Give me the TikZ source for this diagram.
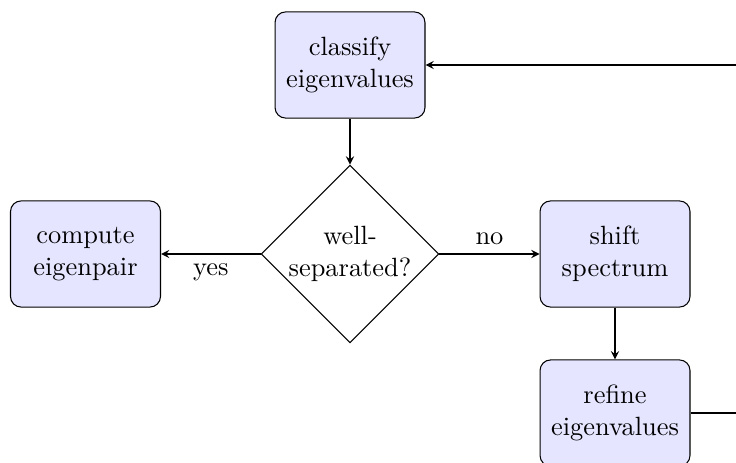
\documentclass[tikz,border=0pt]{standalone}
\usetikzlibrary{shapes.geometric,arrows}
\begin{document}
\begin{tikzpicture}[x=0.3788pt,y=-0.3788pt,
  procbox/.style={draw, rounded corners=4pt, fill=blue!10, minimum width=56.8pt, minimum height=40.2pt, align=center, inner sep=2pt},
  decbox/.style={draw, diamond, aspect=1, minimum width=66.3pt, minimum height=66.3pt, inner sep=0pt, align=center},
  flow/.style={draw, -stealth}]
\useasboundingbox (0,0) rectangle (736,462);
\node[procbox] (classify) at (350,65) {classify\\eigenvalues};
\node[decbox] (dec) at (350,254) {well-\\separated?};
\node[procbox] (compute) at (85.5,254) {compute\\eigenpair};
\node[procbox] (shift) at (615,254) {shift\\spectrum};
\node[procbox] (refine) at (615,413) {refine\\eigenvalues};
\coordinate (r1) at (770,413);
\coordinate (r2) at (770,65);
\draw[flow] (classify) -- (dec);
\draw[flow] (dec.west) -- node[below] {yes} (compute.east);
\draw[flow] (dec.east) -- node[above] {no} (shift.west);
\draw[flow] (shift) -- (refine);
\draw[flow] (refine.east) -- (r1) -- (r2) -- (classify.east);
\end{tikzpicture}
\end{document}
